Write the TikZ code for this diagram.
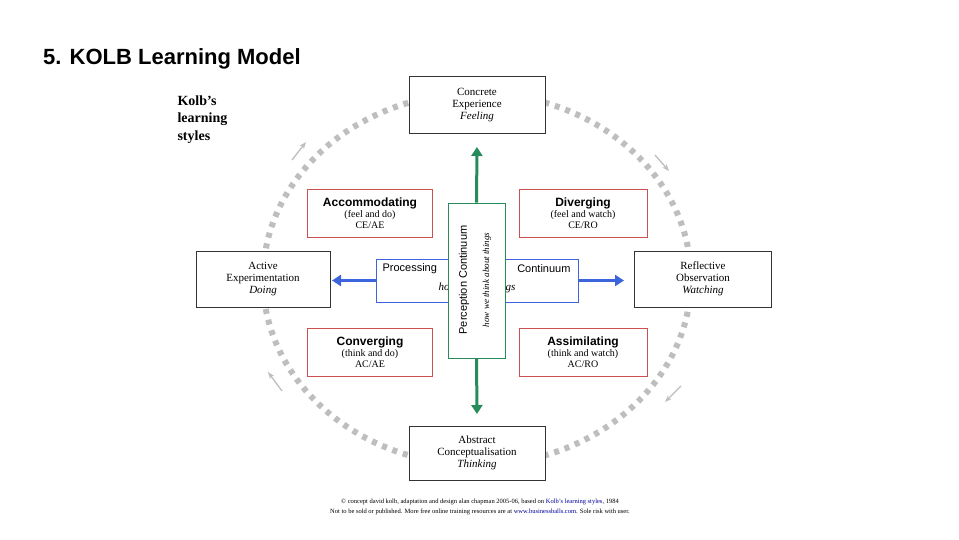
\documentclass[tikz,border=0pt]{standalone}
\usepackage{fontspec}
\setmainfont{Liberation Serif}
\newfontfamily\sans{Liberation Sans}
\usetikzlibrary{arrows.meta}
\definecolor{boxred}{RGB}{205,80,80}
\definecolor{pblue}{RGB}{60,100,220}
\definecolor{pgreen}{RGB}{40,140,90}
\definecolor{dotgray}{RGB}{190,190,190}
\begin{document}
\begin{tikzpicture}[x=1pt,y=-1pt,
  pole/.style={draw=black!80,fill=white,line width=0.7pt,align=center,font=\fontsize{11}{12}\selectfont},
  style/.style={draw=boxred,fill=white,line width=0.7pt,align=center,minimum width=125pt,minimum height=48pt,font=\fontsize{10}{11}\selectfont},
  garrow/.style={pgreen,line width=3pt,-{Triangle[length=9pt,width=11pt]}},
  barrow/.style={pblue,line width=3pt,-{Triangle[length=9pt,width=11pt]}},
  small/.style={dotgray,line width=1.3pt,-{Stealth[length=7pt]}}]
\useasboundingbox (0,0) rectangle (959,540);
\fill[white] (0,0) rectangle (959,540);
\node[anchor=west,inner sep=0pt,font=\sans\bfseries\fontsize{22}{26}\selectfont] (title) at (43,59) {5. KOLB Learning Model};
\node[anchor=north west,align=left,font=\bfseries\fontsize{14}{17.5}\selectfont] (kolb) at (174,92) {Kolb's\\learning\\styles};
% cycle
\draw[dotgray,line width=6pt,dash pattern=on 5pt off 6pt] (477,279) ellipse [x radius=214,y radius=186];
\draw[small] (292,160) -- (306,142);
\draw[small] (655,155) -- (669,171);
\draw[small] (681,386) -- (665,402);
\draw[small] (282,391) -- (268,372);
% poles
\node[pole,minimum width=136pt,minimum height=57pt] (ce) at (477,105) {Concrete\\Experience\\\textit{Feeling}};
\node[pole,minimum width=134pt,minimum height=56pt] (ae) at (263,279) {Active\\Experimentation\\\textit{Doing}};
\node[pole,minimum width=137pt,minimum height=56pt] (ro) at (703,279) {Reflective\\Observation\\\textit{Watching}};
\node[pole,minimum width=136pt,minimum height=54pt] (ac) at (477,453) {Abstract\\Conceptualisation\\\textit{Thinking}};
% styles
\node[style] (acc) at (370,213) {{\sans\bfseries\fontsize{12}{13}\selectfont Accommodating}\\(feel and do)\\CE/AE};
\node[style,minimum width=128pt] (div) at (583,213) {{\sans\bfseries\fontsize{12}{13}\selectfont Diverging}\\(feel and watch)\\CE/RO};
\node[style] (con) at (370,352) {{\sans\bfseries\fontsize{12}{13}\selectfont Converging}\\(think and do)\\AC/AE};
\node[style,minimum width=128pt] (ass) at (583,352) {{\sans\bfseries\fontsize{12}{13}\selectfont Assimilating}\\(think and watch)\\AC/RO};
% processing continuum
\node[draw=pblue,fill=white,line width=0.7pt,minimum width=202pt,minimum height=43pt] (proc) at (477,280.5) {};
\node[anchor=west,font=\sans\fontsize{11}{12}\selectfont] (pl) at (379,269) {Processing};
\node[anchor=east,font=\sans\fontsize{11}{12}\selectfont] (pr) at (574,269) {Continuum};
\node[font=\itshape\fontsize{11}{12}\selectfont] (ph) at (477,288) {how we do things};
% perception continuum
\node[draw=pgreen,fill=white,line width=0.7pt,minimum width=57pt,minimum height=155pt] (perc) at (476.5,280.5) {};
\node[rotate=90,font=\sans\fontsize{11}{12}\selectfont] (pt) at (464,280) {Perception Continuum};
\node[rotate=90,font=\itshape\fontsize{9}{10}\selectfont] (pi) at (487,280) {how we think about things};
% arrows
\draw[garrow] (perc.north) -- (ce.south |- 0,147);
\draw[garrow] (perc.south) -- (ac.north |- 0,414);
\draw[barrow] (proc.west) -- (332,280.5);
\draw[barrow] (proc.east) -- (624,280.5);
% footer
\node[align=center,font=\fontsize{6.5}{10}\selectfont] (foot) at (480,507) {\copyright\ concept david kolb, adaptation and design alan chapman 2005-06, based on {\color{blue!60!black}Kolb's learning styles}, 1984\\Not to be sold or published. More free online training resources are at {\color{blue!60!black}www.businessballs.com}. Sole risk with user.};
\end{tikzpicture}
\end{document}
